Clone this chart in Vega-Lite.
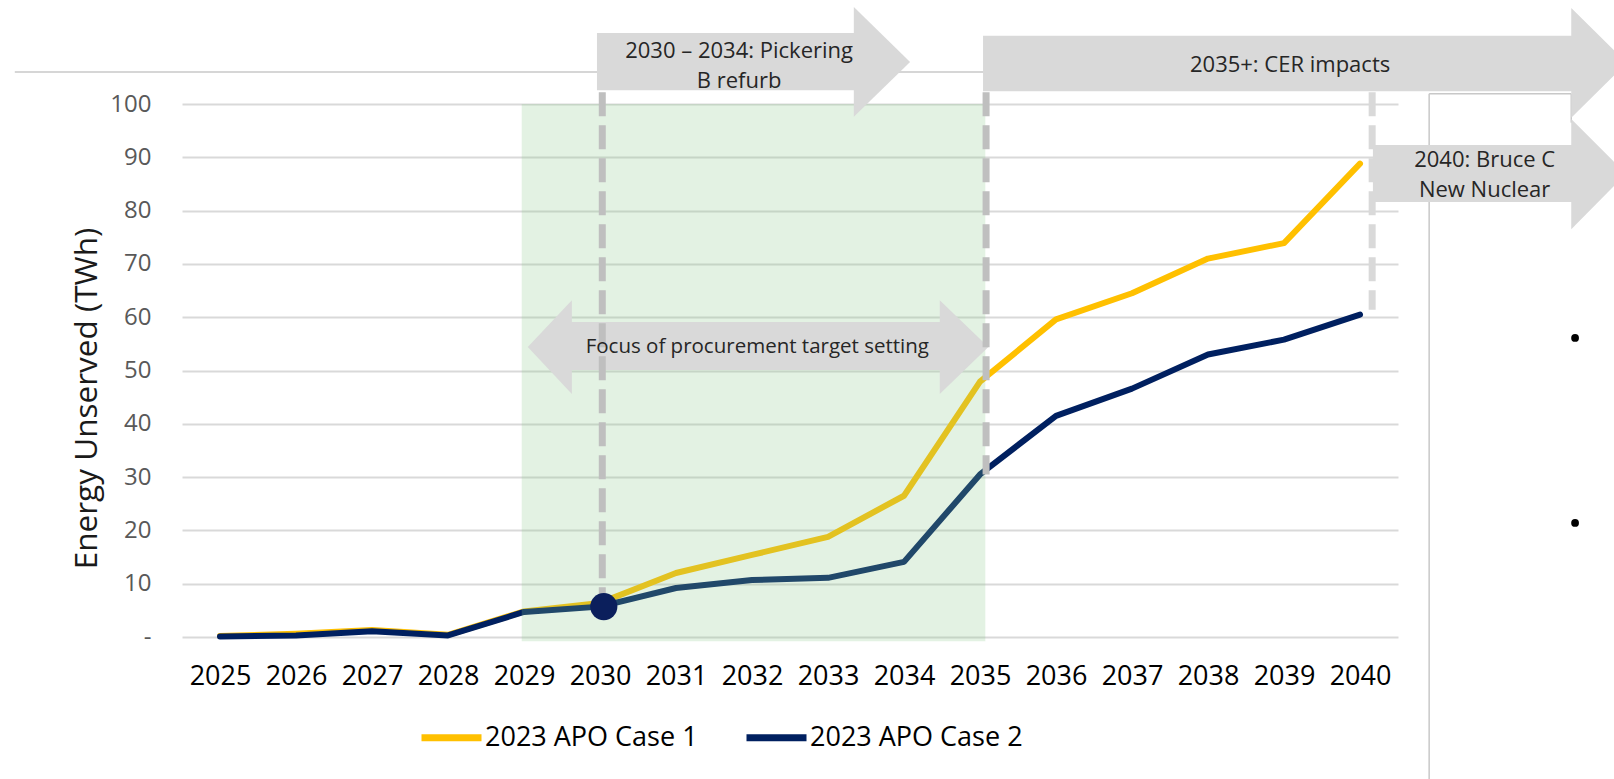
{
  "$schema": "https://vega.github.io/schema/vega-lite/v6.json",
  "autosize": {"type": "none"},
  "width": 1216,
  "height": 533,
  "padding": {"left": 182, "top": 104, "right": 216, "bottom": 142},
  "background": "white",
  "config": {
    "view": {"stroke": null},
    "font": "Open Sans"
  },
  "datasets": {
    "series": [
      {"x": 2025, "y": 0.2, "series": "2023 APO Case 1"},
      {"x": 2026, "y": 0.6, "series": "2023 APO Case 1"},
      {"x": 2027, "y": 1.3, "series": "2023 APO Case 1"},
      {"x": 2028, "y": 0.4, "series": "2023 APO Case 1"},
      {"x": 2029, "y": 4.8, "series": "2023 APO Case 1"},
      {"x": 2030, "y": 6.4, "series": "2023 APO Case 1"},
      {"x": 2031, "y": 12.0, "series": "2023 APO Case 1"},
      {"x": 2032, "y": 15.4, "series": "2023 APO Case 1"},
      {"x": 2033, "y": 18.8, "series": "2023 APO Case 1"},
      {"x": 2034, "y": 26.5, "series": "2023 APO Case 1"},
      {"x": 2035, "y": 47.9, "series": "2023 APO Case 1"},
      {"x": 2036, "y": 59.6, "series": "2023 APO Case 1"},
      {"x": 2037, "y": 64.5, "series": "2023 APO Case 1"},
      {"x": 2038, "y": 71.0, "series": "2023 APO Case 1"},
      {"x": 2039, "y": 73.9, "series": "2023 APO Case 1"},
      {"x": 2040, "y": 88.8, "series": "2023 APO Case 1"},
      {"x": 2025, "y": 0.1, "series": "2023 APO Case 2"},
      {"x": 2026, "y": 0.3, "series": "2023 APO Case 2"},
      {"x": 2027, "y": 1.1, "series": "2023 APO Case 2"},
      {"x": 2028, "y": 0.3, "series": "2023 APO Case 2"},
      {"x": 2029, "y": 4.7, "series": "2023 APO Case 2"},
      {"x": 2030, "y": 5.7, "series": "2023 APO Case 2"},
      {"x": 2031, "y": 9.2, "series": "2023 APO Case 2"},
      {"x": 2032, "y": 10.7, "series": "2023 APO Case 2"},
      {"x": 2033, "y": 11.1, "series": "2023 APO Case 2"},
      {"x": 2034, "y": 14.1, "series": "2023 APO Case 2"},
      {"x": 2035, "y": 30.5, "series": "2023 APO Case 2"},
      {"x": 2036, "y": 41.5, "series": "2023 APO Case 2"},
      {"x": 2037, "y": 46.6, "series": "2023 APO Case 2"},
      {"x": 2038, "y": 53.0, "series": "2023 APO Case 2"},
      {"x": 2039, "y": 55.8, "series": "2023 APO Case 2"},
      {"x": 2040, "y": 60.5, "series": "2023 APO Case 2"}
    ],
    "bodies": [
      {"shape": "focus", "x": 2029.6, "x2": 2034.5, "y": 50.1, "y2": 59.1},
      {"shape": "pickering", "x": 2029.96, "x2": 2033.37, "y": 102.6, "y2": 113.3},
      {"shape": "cer", "x": 2035.04, "x2": 2042.81, "y": 102.4, "y2": 112.8},
      {"shape": "bruce", "x": 2040.17, "x2": 2042.81, "y": 81.6, "y2": 92.3}
    ],
    "heads": [
      {"shape": "focus", "part": "left", "x": 2029.05, "y": 54.4, "y2": 54.4},
      {"shape": "focus", "part": "left", "x": 2029.63, "y": 45.6, "y2": 63.2},
      {"shape": "focus", "part": "right", "x": 2034.47, "y": 45.6, "y2": 63.2},
      {"shape": "focus", "part": "right", "x": 2035.11, "y": 54.4, "y2": 54.4},
      {"shape": "pickering", "part": "right", "x": 2033.34, "y": 97.6, "y2": 118.2},
      {"shape": "pickering", "part": "right", "x": 2034.08, "y": 107.9, "y2": 107.9},
      {"shape": "cer", "part": "right", "x": 2042.78, "y": 97.4, "y2": 118.0},
      {"shape": "cer", "part": "right", "x": 2043.51, "y": 107.7, "y2": 107.7},
      {"shape": "bruce", "part": "right", "x": 2042.78, "y": 76.5, "y2": 97.2},
      {"shape": "bruce", "part": "right", "x": 2043.5, "y": 86.9, "y2": 86.9}
    ],
    "dashes": [
      {"kind": "dark", "x": 2030.03, "y": 102.2, "y2": 6.5},
      {"kind": "dark", "x": 2035.08, "y": 102.2, "y2": 30.5},
      {"kind": "light", "x": 2040.16, "y": 102.2, "y2": 61.4}
    ],
    "thin": [
      {"x": 2022.3, "x2": 2040.91, "y": 106.0, "y2": 106.0},
      {"x": 2040.91, "x2": 2040.91, "y": 101.9, "y2": -30},
      {"x": 2040.91, "x2": 2042.78, "y": 101.9, "y2": 101.9},
      {"x": 2042.78, "x2": 2042.78, "y": 101.9, "y2": 96.5}
    ],
    "texts": [
      {"x": 2031.83, "y": 110.0, "label": "2030 – 2034: Pickering\nB refurb"},
      {"x": 2039.08, "y": 107.3, "label": "2035+: CER impacts"},
      {"x": 2041.64, "y": 89.4, "label": "2040: Bruce C\nNew Nuclear"}
    ],
    "focustext": [
      {"x": 2032.07, "y": 54.4, "label": "Focus of procurement target setting"}
    ],
    "green": [
      {"x": 2028.97, "x2": 2035.07, "y": -0.8, "y2": 100}
    ],
    "dot": [
      {"x": 2030.05, "y": 5.7}
    ],
    "bullets": [
      {"x": 2042.83, "y": 56.1},
      {"x": 2042.83, "y": 21.4}
    ]
  },
  "encoding": {
    "x": {
      "field": "x",
      "type": "quantitative",
      "scale": {"domain": [2024.5, 2040.5], "nice": false, "zero": false},
      "axis": {
        "title": null,
        "values": [2025, 2026, 2027, 2028, 2029, 2030, 2031, 2032, 2033, 2034, 2035, 2036, 2037, 2038, 2039, 2040],
        "format": "d",
        "grid": false,
        "domain": false,
        "ticks": false,
        "labelFont": "Open Sans",
        "labelFontSize": 27,
        "labelColor": "#000000",
        "labelPadding": 26,
        "labelFlush": false,
        "labelOverlap": false
      }
    },
    "y": {
      "field": "y",
      "type": "quantitative",
      "scale": {"domain": [0, 100], "nice": false, "zero": false},
      "axis": {
        "title": "Energy Unserved (TWh)",
        "values": [0, 10, 20, 30, 40, 50, 60, 70, 80, 90, 100],
        "labelExpr": "datum.value === 0 ? '-' : datum.label",
        "grid": true,
        "gridColor": "#D9D9D9",
        "gridWidth": 2,
        "domain": false,
        "ticks": false,
        "labelFont": "Open Sans",
        "labelFontSize": 24,
        "labelColor": "#595959",
        "labelPadding": 31,
        "titleFont": "Open Sans",
        "titleFontSize": 31.5,
        "titleFontWeight": "normal",
        "titleColor": "#1a1a1a",
        "titlePadding": 6,
        "titleY": 294
      }
    }
  },
  "layer": [
    {
      "data": {"name": "series"},
      "transform": [{"filter": "datum.series === '2023 APO Case 1'"}],
      "mark": {"type": "line", "strokeWidth": 6, "strokeCap": "round", "strokeJoin": "round"},
      "encoding": {
        "color": {
          "field": "series",
          "type": "nominal",
          "scale": {"domain": ["2023 APO Case 1", "2023 APO Case 2"], "range": ["#FFC000", "#002060"]},
          "legend": {
            "title": null,
            "orient": "none",
            "direction": "horizontal",
            "legendX": 236,
            "legendY": 600,
            "symbolType": "stroke",
            "symbolSize": 3600,
            "symbolStrokeWidth": 7,
            "labelFont": "Open Sans",
            "labelFontSize": 27,
            "labelColor": "#000000",
            "labelLimit": 0,
            "labelOffset": 0,
            "columnPadding": 34,
            "padding": 0
          }
        }
      }
    },
    {
      "data": {"name": "series"},
      "transform": [{"filter": "datum.series === '2023 APO Case 2'"}],
      "mark": {"type": "line", "strokeWidth": 6, "strokeCap": "round", "strokeJoin": "round"},
      "encoding": {
        "color": {
          "field": "series",
          "type": "nominal",
          "scale": {"domain": ["2023 APO Case 1", "2023 APO Case 2"], "range": ["#FFC000", "#002060"]}
        }
      }
    },
    {
      "data": {"name": "green"},
      "mark": {"type": "rect", "color": "#8CC88C", "opacity": 0.24},
      "encoding": {
        "x2": {"field": "x2"},
        "y2": {"field": "y2"}
      }
    },
    {
      "data": {"name": "bodies"},
      "transform": [{"filter": "datum.shape === 'focus'"}],
      "mark": {"type": "rect", "color": "#D9D9D9", "opacity": 1},
      "encoding": {
        "x2": {"field": "x2"},
        "y2": {"field": "y2"}
      }
    },
    {
      "data": {"name": "heads"},
      "transform": [{"filter": "datum.shape === 'focus'"}],
      "mark": {"type": "area", "color": "#D9D9D9", "opacity": 1},
      "encoding": {
        "y2": {"field": "y2"},
        "detail": {"field": "part", "type": "nominal"}
      }
    },
    {
      "data": {"name": "thin"},
      "mark": {"type": "rule", "color": "#C8C8C8", "strokeWidth": 1.5},
      "encoding": {
        "x2": {"field": "x2"},
        "y2": {"field": "y2"}
      }
    },
    {
      "data": {"name": "dashes"},
      "transform": [{"filter": "datum.kind === 'dark'"}],
      "mark": {"type": "rule", "color": "#BFBFBF", "strokeWidth": 7, "strokeDash": [24, 9]},
      "encoding": {
        "y2": {"field": "y2"}
      }
    },
    {
      "data": {"name": "dashes"},
      "transform": [{"filter": "datum.kind === 'light'"}],
      "mark": {"type": "rule", "color": "#D9D9D9", "strokeWidth": 7, "strokeDash": [24, 9]},
      "encoding": {
        "y2": {"field": "y2"}
      }
    },
    {
      "data": {"name": "dot"},
      "mark": {"type": "point", "shape": "circle", "filled": true, "color": "#0B1F5C", "opacity": 1, "size": 740},
      "encoding": {}
    },
    {
      "data": {"name": "bodies"},
      "transform": [{"filter": "datum.shape !== 'focus'"}],
      "mark": {"type": "rect", "color": "#D9D9D9", "opacity": 1},
      "encoding": {
        "x2": {"field": "x2"},
        "y2": {"field": "y2"}
      }
    },
    {
      "data": {"name": "heads"},
      "transform": [{"filter": "datum.shape !== 'focus'"}],
      "mark": {"type": "area", "color": "#D9D9D9", "opacity": 1},
      "encoding": {
        "y2": {"field": "y2"},
        "detail": {"field": "shape", "type": "nominal"}
      }
    },
    {
      "data": {"name": "texts"},
      "mark": {"type": "text", "font": "Open Sans", "fontSize": 22, "color": "#262626", "align": "center", "baseline": "middle", "lineBreak": "\n", "lineHeight": 30},
      "encoding": {
        "text": {"field": "label", "type": "nominal"}
      }
    },
    {
      "data": {"name": "focustext"},
      "mark": {"type": "text", "font": "Open Sans", "fontSize": 20.5, "color": "#262626", "align": "center", "baseline": "middle"},
      "encoding": {
        "text": {"field": "label", "type": "nominal"}
      }
    },
    {
      "data": {"name": "bullets"},
      "mark": {"type": "point", "shape": "circle", "filled": true, "color": "#000000", "opacity": 1, "size": 60},
      "encoding": {}
    }
  ]
}
